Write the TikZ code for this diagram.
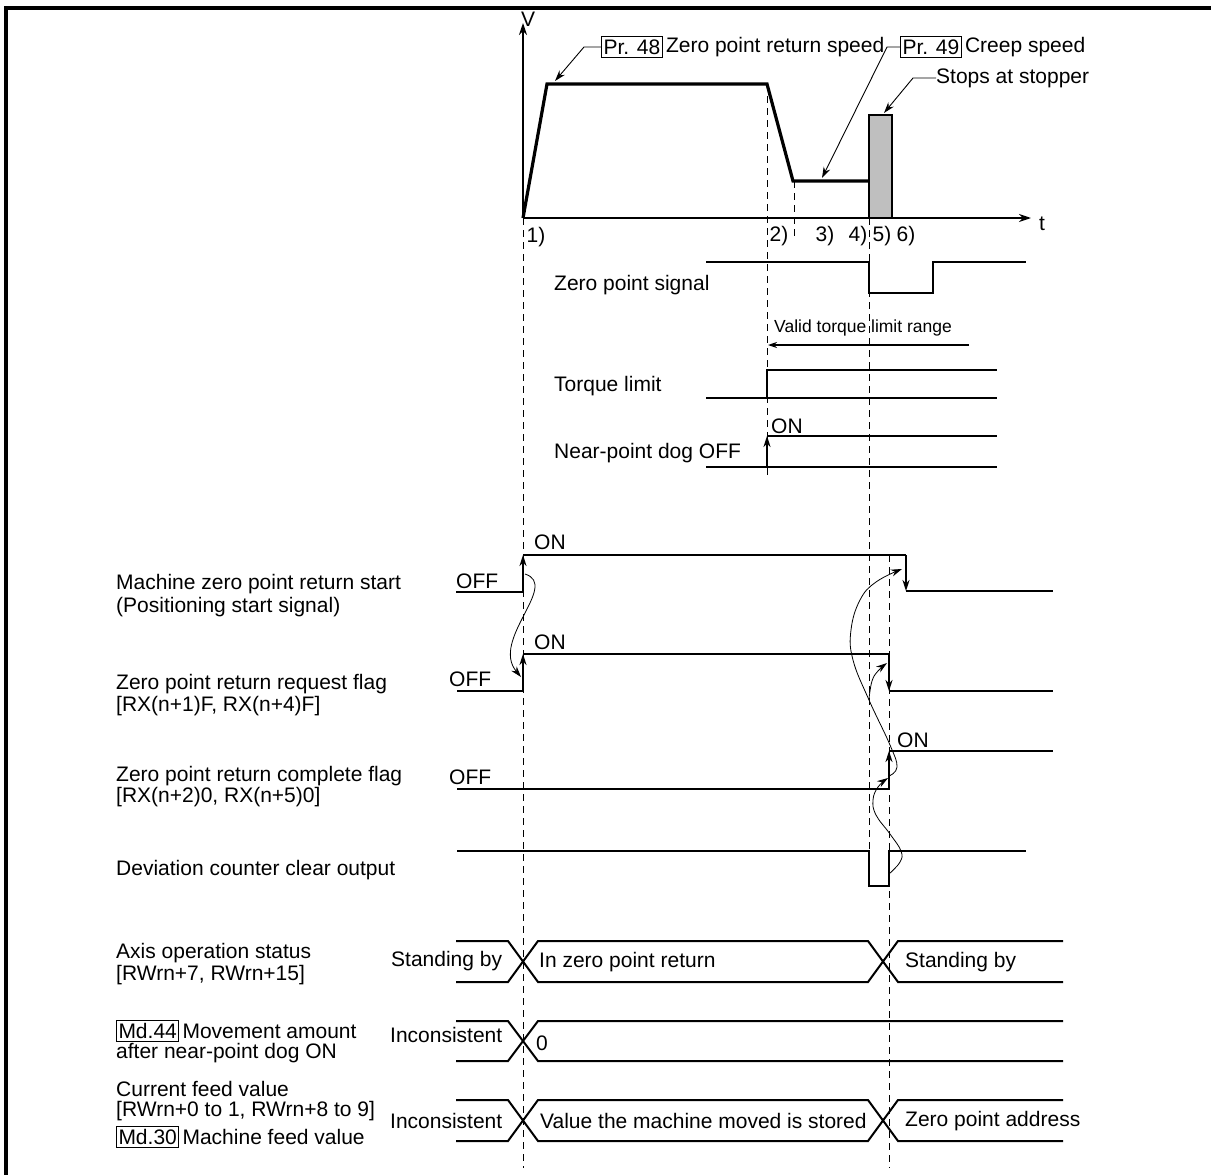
\documentclass[tikz,border=0pt]{standalone}
\usepackage{fontspec}
\setmainfont{Liberation Sans}
\usetikzlibrary{arrows.meta}
\begin{document}
\begin{tikzpicture}[x=1pt,y=-1pt,
  lbl/.style={anchor=west,inner sep=0pt,font=\fontsize{21}{25}\selectfont},
  cl/.style={inner sep=0pt,font=\fontsize{21}{25}\selectfont},
  small/.style={anchor=west,inner sep=0pt,font=\fontsize{17.5}{21}\selectfont},
  boxed/.style={draw,line width=1pt,inner xsep=2pt,inner ysep=3pt,anchor=west,font=\fontsize{21}{25}\selectfont},
  guide/.style={dash pattern=on 7pt off 5pt,line width=1pt},
  prof/.style={line width=3.2pt,line join=miter},
  axisl/.style={line width=1.6pt,-{Stealth[length=12pt,width=8pt]}},
  sig/.style={line width=2.2pt},
  tsig/.style={line width=1.3pt},
  edgearr/.style={line width=2.2pt,-{Stealth[length=11pt,width=7pt]}},
  lead/.style={line width=0.9pt,-{Stealth[length=11pt,width=7pt]}},
  curv/.style={line width=0.8pt,-{Stealth[length=11pt,width=7pt]}},
  bus/.style={line width=2pt},
]
\useasboundingbox (0,0) rectangle (1211,1175);
% frame
\draw[line width=4pt] (6,1175) -- (6,8) -- (1211,8);

% ---------- speed graph ----------
\coordinate (O) at (523,218);
\draw[axisl] (O) -- (523,23);
\draw[axisl] (O) -- (1031,218);
\node[cl] (vlab) at (528,19) {V};
\node[cl] (tlab) at (1042,224) {t};
\draw[prof] (O) -- (547,84) -- (767,84) -- (793,181) -- (869,181);
\draw[line width=1.5pt,fill=black!25] (869,115) rectangle (892,218);

\node[boxed] (pr48) at (601,47) {Pr. 48};
\node[lbl] (zrs) at ([xshift=3pt]pr48.east) {Zero point return speed};
\node[boxed] (pr49) at (900,47) {Pr. 49};
\node[lbl] (crs) at ([xshift=3pt]pr49.east) {Creep speed};
\node[lbl] (stp) at (936,78) {Stops at stopper};
\coordinate (t48) at (555,81);
\coordinate (t49) at (822,178);
\coordinate (tst) at (884,113);
\draw[lead] (pr48.west) -- ++(-17,0) -- (t48);
\draw[lead] (pr49.west) -- ++(-13,0) -- (t49);
\draw[lead] (stp.west) -- ++(-23,0) -- (tst);

\node[cl] (p1) at (536,237) {1)};
\node[cl] (p2) at (779,236) {2)};
\node[cl] (p3) at (825,236) {3)};
\node[cl] (p4) at (858,236) {4)};
\node[cl] (p5) at (882,236) {5)};
\node[cl] (p6) at (906,236) {6)};

% guide lines
\draw[guide] (523,218) -- (523,1168);
\draw[guide] (767,84) -- (767,476);
\draw[guide] (794,181) -- (794,238);
\draw[guide] (869,218) -- (869,851);
\draw[guide] (889,555) -- (889,1168);

% ---------- zero point signal ----------
\node[lbl] (zps) at (554,285) {Zero point signal};
\draw[tsig] (706,262) -- (869,262) -- (869,293) -- (933,293) -- (933,262) -- (1026,262);

\node[small] (vtl) at (774,328) {Valid torque limit range};
\coordinate (vtlE) at (969,345);
\coordinate (vtlW) at (768,345);
\draw[line width=1.1pt,-{Stealth[length=9pt,width=6pt]}] (vtlE) -- (vtlW);

% torque limit
\node[lbl] (tql) at (554,386) {Torque limit};
\draw[sig] (706,398) -- (767,398) -- (767,370) -- (997,370);
\draw[tsig] (767,398) -- (997,398);

% near-point dog
\node[lbl] (npd) at (554,453) {Near-point dog OFF};
\node[lbl] (npdon) at (771,426) {ON};
\draw[sig] (706,467) -- (767,467);
\draw[edgearr] (767,467) -- (767,436);
\draw[sig] (767,436) -- (997,436);
\draw[tsig] (767,467) -- (997,467);

% ---------- machine zero point return start ----------
\node[lbl] (ms1) at (116,584) {Machine zero point return start};
\node[lbl] (ms2) at (116,607) {(Positioning start signal)};
\node[lbl] (msoff) at (456,581) {OFF};
\node[lbl] (mson) at (534,542) {ON};
\draw[sig] (456,592) -- (523,592);
\draw[edgearr] (523,592) -- (523,555);
\draw[sig] (523,555) -- (906,555);
\draw[edgearr] (906,555) -- (906,591);
\draw[sig] (906,591) -- (1053,591);

% request flag
\node[lbl] (rq1) at (116,684) {Zero point return request flag};
\node[lbl] (rq2) at (116,706) {[RX(n+1)F, RX(n+4)F]};
\node[lbl] (rqoff) at (449,679) {OFF};
\node[lbl] (rqon) at (534,642) {ON};
\draw[sig] (457,691) -- (523,691);
\draw[edgearr] (523,691) -- (523,654);
\draw[sig] (523,654) -- (889,654);
\draw[edgearr] (889,654) -- (889,691);
\draw[sig] (889,691) -- (1053,691);

% complete flag
\node[lbl] (cp1) at (116,776) {Zero point return complete flag};
\node[lbl] (cp2) at (116,797) {[RX(n+2)0, RX(n+5)0]};
\node[lbl] (cpoff) at (449,777) {OFF};
\node[lbl] (cpon) at (897,740) {ON};
\draw[sig] (457,789) -- (889,789);
\draw[edgearr] (889,789) -- (889,751);
\draw[sig] (889,751) -- (1053,751);

% deviation counter clear
\node[lbl] (dcc) at (116,870) {Deviation counter clear output};
\draw[tsig] (457,851) -- (869,851) -- (869,886) -- (889,886) -- (889,851) -- (1026,851);

% curved cause arrows
\coordinate (cA1) at (525,574);
\coordinate (cA2) at (521,677);
\draw[curv] (cA1) .. controls (560,585) and (490,640) .. (cA2);
\draw[curv] plot[smooth,tension=0.7] coordinates {(889,776) (897,767) (890,745) (869,700) (853,660) (851,630) (860,600) (876,582) (902,569)};
\draw[curv] plot[smooth,tension=0.7] coordinates {(869,699) (872,681) (878,671) (887,663)};
\draw[curv] plot[smooth,tension=0.7] coordinates {(889,874) (900,862) (901,851) (890,834) (876,815) (873,800) (878,787) (888,778)};

% ---------- bottom buses ----------
\node[lbl] (ax1) at (116,953) {Axis operation status};
\node[lbl] (ax2) at (116,975) {[RWrn+7, RWrn+15]};
\draw[bus] (456,941) -- (508,941) -- (538,982) -- (868,982) -- (898,941) -- (1063,941);
\draw[bus] (456,982) -- (508,982) -- (538,941) -- (868,941) -- (898,982) -- (1063,982);
\node[lbl] (axs1) at (391,961) {Standing by};
\node[lbl] (axs2) at (539,962) {In zero point return};
\node[lbl] (axs3) at (905,962) {Standing by};

\node[boxed] (md44) at (116,1031) {Md.44};
\node[lbl] (md44t) at ([xshift=3pt]md44.east) {Movement amount};
\node[lbl] (md44b) at (116,1053) {after near-point dog ON};
\draw[bus] (456,1021) -- (508,1021) -- (538,1061) -- (1063,1061);
\draw[bus] (456,1061) -- (508,1061) -- (538,1021) -- (1063,1021);
\node[lbl] (mds1) at (390,1035) {Inconsistent};
\node[lbl] (mds2) at (536,1043) {0};

\node[lbl] (cf1) at (116,1089) {Current feed value};
\node[lbl] (cf2) at (116,1111) {[RWrn+0 to 1, RWrn+8 to 9]};
\node[boxed] (md30) at (116,1137) {Md.30};
\node[lbl] (md30t) at ([xshift=3pt]md30.east) {Machine feed value};
\draw[bus] (456,1100) -- (508,1100) -- (538,1141) -- (868,1141) -- (898,1100) -- (1063,1100);
\draw[bus] (456,1141) -- (508,1141) -- (538,1100) -- (868,1100) -- (898,1141) -- (1063,1141);
\node[lbl] (cfs1) at (390,1121) {Inconsistent};
\node[lbl] (cfs2) at (540,1121) {Value the machine moved is stored};
\node[lbl] (cfs3) at (905,1121) {Zero point address};
\end{tikzpicture}
\end{document}
